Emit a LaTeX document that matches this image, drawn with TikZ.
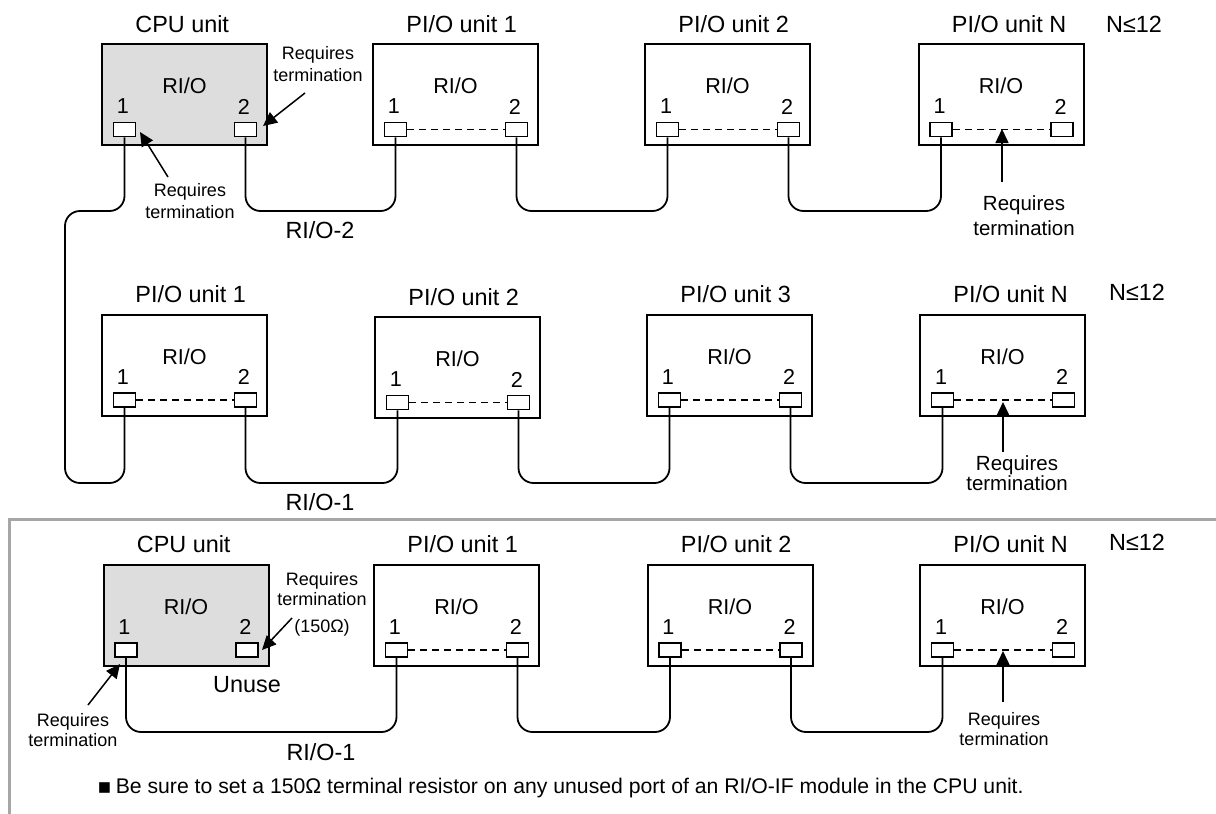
\documentclass[tikz,border=0pt]{standalone}
\usepackage{fontspec}
\setmainfont{Liberation Sans}
\newfontfamily\djv{DejaVu Sans}
\usetikzlibrary{arrows.meta}
\definecolor{cpufill}{HTML}{DDDDDD}
\definecolor{framegray}{HTML}{A6A6A6}
\tikzset{
  unitbox/.style={draw, line width=1pt, minimum width=82.5pt, minimum height=50.5pt, inner sep=0pt},
  portbox/.style={draw, fill=white, line width=0.85pt, minimum width=11pt, minimum height=7pt, inner sep=0pt},
  txt/.style={inner sep=0pt, font=\fontsize{11.7}{14}\selectfont},
  rio/.style={inner sep=0pt, font=\fontsize{10.8}{12}\selectfont},
  note/.style={inner sep=0pt, align=center, font=\fontsize{9}{11}\selectfont},
  tightnote/.style={inner sep=0pt, align=center, font=\fontsize{9}{10}\selectfont},
  bignote/.style={inner sep=0pt, align=center, font=\fontsize{10.25}{12.5}\selectfont},
  bigtight/.style={inner sep=0pt, align=center, font=\fontsize{10.25}{10}\selectfont},
  cable/.style={line width=0.9pt, rounded corners=7.5pt},
  link/.style={dash pattern=on 3.5pt off 2.5pt, line width=0.85pt},
  pointer/.style={line width=0.75pt, -{Triangle[length=7pt,width=6.5pt]}},
}
\newcommand\rioUnit[5]{%
  \node[unitbox, fill=#5] (#1) at (#2,#3) {};
  \node[txt, anchor=west] (#1-t) at (#2-49.5,#3-70.5) {#4};
  \node[rio] (#1-r) at (#2,#3-8.5) {RI/O};
  \node[portbox] (#1-p1) at (#2-60,#3+35) {};
  \node[portbox] (#1-p2) at (#2+61,#3+35) {};
  \node[rio] (#1-n1) at (#2-61.5,#3+12) {1};
  \node[rio] (#1-n2) at (#2+59.5,#3+12) {2};
}
\newcommand\cableLink[3]{%
  \draw[cable] (#1.south) -- (#1.south |- #3) -- (#2.south |- #3) -- (#2.south);
}
\begin{document}
\begin{tikzpicture}[x=0.5pt, y=-0.5pt]
\useasboundingbox (0,0) rectangle (1216,814);

% frame of the lower panel
\draw[framegray, line width=1.5pt] (1216,519) -- (9.5,519) -- (9.5,814);

% levels of the cables
\coordinate (yA) at (0,211);
\coordinate (yB) at (0,483);
\coordinate (yC) at (0,732);
\coordinate (loopx) at (65,0);

% ---------- row 1 ----------
\rioUnit{cpuA}{184.5}{94.5}{CPU unit}{cpufill}
\rioUnit{a1}{455.5}{94.5}{PI/O unit 1}{white}
\rioUnit{a2}{727.5}{94.5}{PI/O unit 2}{white}
\rioUnit{aN}{1001}{94.5}{PI/O unit N}{white}
\draw[link] (a1-p1) -- (a1-p2);
\draw[link] (a2-p1) -- (a2-p2);
\draw[link] (aN-p1) -- (aN-p2);
\node[txt] (nA) at (1134,24) {N≤12};

% ---------- row 2 ----------
\rioUnit{b1}{184.5}{365}{PI/O unit 1}{white}
\rioUnit{b2}{457.5}{367.5}{PI/O unit 2}{white}
\rioUnit{b3}{729.5}{365}{PI/O unit 3}{white}
\rioUnit{bN}{1002.5}{365}{PI/O unit N}{white}
\draw[link] (b1-p1) -- (b1-p2);
\draw[link] (b2-p1) -- (b2-p2);
\draw[link] (b3-p1) -- (b3-p2);
\draw[link] (bN-p1) -- (bN-p2);
\node[txt] (nB) at (1137,292) {N≤12};

% ---------- row 3 ----------
\rioUnit{cpuC}{186}{615}{CPU unit}{cpufill}
\rioUnit{c1}{456.5}{615}{PI/O unit 1}{white}
\rioUnit{c2}{730}{615}{PI/O unit 2}{white}
\rioUnit{cN}{1002.5}{615}{PI/O unit N}{white}
\draw[link] (c1-p1) -- (c1-p2);
\draw[link] (c2-p1) -- (c2-p2);
\draw[link] (cN-p1) -- (cN-p2);
\node[txt] (nC) at (1137,542) {N≤12};

% ---------- cables ----------
\cableLink{cpuA-p2}{a1-p1}{yA}
\cableLink{a1-p2}{a2-p1}{yA}
\cableLink{a2-p2}{aN-p1}{yA}
\draw[cable] (cpuA-p1.south) -- (cpuA-p1.south |- yA) -- (loopx |- yA)
  -- (loopx |- yB) -- (b1-p1.south |- yB) -- (b1-p1.south);
\cableLink{b1-p2}{b2-p1}{yB}
\cableLink{b2-p2}{b3-p1}{yB}
\cableLink{b3-p2}{bN-p1}{yB}
\cableLink{cpuC-p1}{c1-p1}{yC}
\cableLink{c1-p2}{c2-p1}{yC}
\cableLink{c2-p2}{cN-p1}{yC}

% ---------- cable names ----------
\node[txt] (rio2) at (320,230) {RI/O-2};
\node[txt] (rio1b) at (320,502) {RI/O-1};
\node[txt] (rio1c) at (321,752) {RI/O-1};
\node[txt] (unuse) at (247,685) {Unuse};

% ---------- termination notes ----------
\node[note] (tA2) at (318,64) {Requires\\termination};
\node[note] (tA1) at (190,201) {Requires\\termination};
\node[bignote] (tAN) at (1024,215.5) {Requires\\termination};
\node[bigtight] (tBN) at (1017,473) {Requires\\termination};
\node[tightnote] (tC1) at (73,730) {Requires\\termination};
\node[tightnote] (tC2) at (322,604.5) {Requires\\termination\\[3.5pt](150Ω)};
\node[tightnote] (tCN) at (1004,729) {Requires\\termination};

\coordinate (sA2) at (305,93);   \coordinate (eA2) at (263,126);
\coordinate (sA1) at (168,177);  \coordinate (eA1) at (140,132);
\coordinate (sAN) at (1002,182); \coordinate (eAN) at (1002,129);
\coordinate (sBN) at (1003,452); \coordinate (eBN) at (1003,402);
\coordinate (sC1) at (88,705);   \coordinate (eC1) at (120,664);
\coordinate (sC2) at (292,618);  \coordinate (eC2) at (262,650);
\coordinate (sCN) at (1003,702); \coordinate (eCN) at (1003,651);
\draw[pointer] (sA2) -- (eA2);
\draw[pointer] (sA1) -- (eA1);
\draw[pointer] (sAN) -- (eAN);
\draw[pointer] (sBN) -- (eBN);
\draw[pointer] (sC1) -- (eC1);
\draw[pointer] (sC2) -- (eC2);
\draw[pointer] (sCN) -- (eCN);

% ---------- bottom remark ----------
\node[inner sep=0pt, anchor=west, font=\fontsize{10.6}{13}\selectfont] (remark) at (97,788)
  {{\djv ▪}\hspace{2pt}Be sure to set a 150Ω terminal resistor on any unused port of an RI/O-IF module in the CPU unit.};
\end{tikzpicture}
\end{document}
